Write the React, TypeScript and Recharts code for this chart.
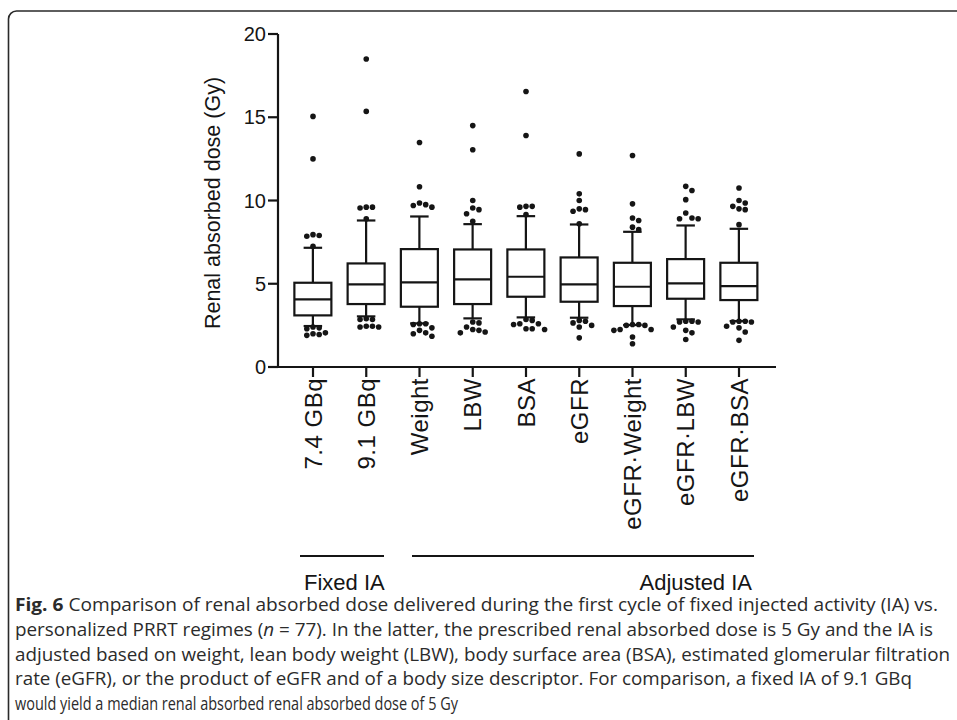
import React from 'react';
import { ComposedChart, Bar, Scatter, XAxis, YAxis } from 'recharts';

// ---------------- data ----------------
const categories = ['7.4 GBq', '9.1 GBq', 'Weight', 'LBW', 'BSA', 'eGFR', 'eGFR·Weight', 'eGFR·LBW', 'eGFR·BSA'];
const q1Values = [3.1, 3.78, 3.62, 3.78, 4.22, 3.92, 3.66, 4.1, 4.02];
const medianValues = [4.06, 4.96, 5.08, 5.26, 5.42, 4.96, 4.82, 5.02, 4.86];
const q3Values = [5.06, 6.22, 7.08, 7.06, 7.06, 6.58, 6.26, 6.48, 6.26];
const whiskerLowValues = [2.46, 3.04, 2.62, 2.92, 2.98, 2.96, 2.52, 2.86, 2.76];
const whiskerHighValues = [7.16, 8.8, 9.04, 8.58, 9.06, 8.56, 8.12, 8.5, 8.3];
const outliersAbove = [
  [15.05, 12.5, 7.95, 7.9, 7.85, 7.25],
  [18.5, 15.35, 9.6, 9.55, 9.6, 8.9],
  [13.48, 10.83, 9.85, 9.75, 9.7, 9.6],
  [14.5, 13.05, 10.0, 9.55, 9.45, 9.2, 8.75],
  [16.55, 13.9, 9.65, 9.65, 9.6, 9.15],
  [12.8, 10.4, 10.0, 9.5, 9.45, 9.35, 8.6],
  [12.7, 9.8, 8.95, 8.8, 8.4, 8.25],
  [10.85, 10.6, 10.05, 9.25, 8.9, 8.9, 8.95],
  [10.75, 10.0, 9.85, 9.65, 9.5, 9.45, 8.55],
];
const outliersBelow = [
  [2.4, 2.35, 2.3, 2.05, 2.0, 1.95, 1.9],
  [2.9, 2.85, 2.85, 2.45, 2.4, 2.4, 2.45],
  [2.6, 2.55, 2.6, 2.35, 2.2, 2.05, 2.0, 1.85],
  [2.7, 2.65, 2.4, 2.25, 2.2, 2.05, 2.1],
  [2.85, 2.8, 2.6, 2.6, 2.55, 2.3, 2.25, 2.3],
  [2.8, 2.75, 2.65, 2.5, 2.4, 1.75],
  [2.55, 2.5, 2.5, 2.55, 2.25, 2.2, 2.25, 1.8, 1.4],
  [2.75, 2.7, 2.7, 2.75, 2.4, 2.2, 2.05, 1.65],
  [2.75, 2.7, 2.7, 2.75, 2.45, 2.35, 2.1, 1.6],
];
const yTicks = [0, 5, 10, 15, 20];
const yLabel = 'Renal absorbed dose (Gy)';
const groupLabels = ['Fixed IA', 'Adjusted IA'];
const captionRest = [
  'personalized PRRT regimes (',
  'adjusted based on weight, lean body weight (LBW), body surface area (BSA), estimated glomerular filtration',
  'rate (eGFR), or the product of eGFR and of a body size descriptor. For comparison, a fixed IA of 9.1 GBq',
  'would yield a median renal absorbed renal absorbed dose of 5 Gy',
];

// ---------------- layout ----------------
const W = 957;
const H = 720;
const PLOT_LEFT = 278;
const PLOT_RIGHT = 776;
const PLOT_TOP = 34;
const PLOT_BOTTOM = 367;
const PAD_L = 8.375;
const PAD_R = 10.375;
const BAND = (PLOT_RIGHT - PLOT_LEFT - PAD_L - PAD_R) / categories.length;
const NUM_D0 = -(PAD_L + BAND / 2) / BAND;
const NUM_D1 = categories.length - 1 + (PAD_R + BAND / 2) / BAND;
const PX_PER_GY = (PLOT_BOTTOM - PLOT_TOP) / 20;
const DOT_R = 2.8;
const INK = '#151515';
const FONT = '"Liberation Sans", Arial, Helvetica, sans-serif';

const rows = categories.map((name, i) => ({
  name,
  box: [q1Values[i], q3Values[i]],
  whisker: [whiskerLowValues[i], whiskerHighValues[i]],
  q1: q1Values[i],
  q3: q3Values[i],
  med: medianValues[i],
}));

// simple beeswarm dodge so that overlapping outliers are spread sideways
function swarm(values: number[], idx: number) {
  const placed: { v: number; dx: number }[] = [];
  const sorted = [...values].sort((a, b) => b - a);
  const step = 2 * DOT_R + 0.6;
  for (const v of sorted) {
    for (let k = 0; k < 30; k++) {
      const m = k === 0 ? 0 : k % 2 === 1 ? Math.ceil(k / 2) : -Math.ceil(k / 2);
      const dx = m * step;
      const ok = placed.every((p) => Math.hypot(dx - p.dx, (v - p.v) * PX_PER_GY) >= 2 * DOT_R + 0.4);
      if (ok) {
        placed.push({ v, dx });
        break;
      }
    }
  }
  return placed.map((p) => ({ x: idx + p.dx / BAND, y: p.v }));
}

const outlierPoints = categories.flatMap((_, i) => [
  ...swarm(outliersAbove[i], i),
  ...swarm(outliersBelow[i], i),
]);

const WhiskerShape = (props: any) => {
  const { x, y, width, height, payload } = props;
  const top = Math.min(y, y + height);
  const h = Math.abs(height);
  const lo = payload.whisker[0];
  const hi = payload.whisker[1];
  const pix = (v: number) => top + (h * (hi - v)) / (hi - lo);
  const cx = x + width / 2;
  const cap = width / 4;
  const yq3 = pix(payload.q3);
  const yq1 = pix(payload.q1);
  const bottom = top + h;
  return (
    <g stroke={INK} strokeWidth={2.2} fill="none">
      <line x1={cx} x2={cx} y1={top} y2={yq3} />
      <line x1={cx} x2={cx} y1={yq1} y2={bottom} />
      <line x1={cx - cap} x2={cx + cap} y1={top} y2={top} />
      <line x1={cx - cap} x2={cx + cap} y1={bottom} y2={bottom} />
    </g>
  );
};

const BoxShape = (props: any) => {
  const { x, y, width, height, payload } = props;
  const top = Math.min(y, y + height);
  const h = Math.abs(height);
  const yMed = top + (h * (payload.q3 - payload.med)) / (payload.q3 - payload.q1);
  return (
    <g stroke={INK} strokeWidth={2.2}>
      <rect x={x} y={top} width={width} height={h} fill="#ffffff" />
      <line x1={x} x2={x + width} y1={yMed} y2={yMed} />
    </g>
  );
};

const DotShape = (props: any) => <circle cx={props.cx} cy={props.cy} r={DOT_R} fill={INK} />;

const CatTick = (props: any) => {
  const { x, y, payload } = props;
  return (
    <text
      x={x}
      y={y}
      transform={`rotate(-90 ${x} ${y})`}
      textAnchor="end"
      dominantBaseline="central"
      fontSize={24}
      letterSpacing={0.5}
      fontFamily={FONT}
      fill={INK}
    >
      {payload.value}
    </text>
  );
};

export default function App() {
  const capFont = '"Open Sans", "Noto Sans", sans-serif';
  return (
    <div style={{ position: 'absolute', left: 0, top: 0, width: W, height: H, background: '#fff' }}>
      <div style={{ position: 'absolute', left: 0, top: 0 }}>
        <ComposedChart
          width={W}
          height={H}
          data={rows}
          margin={{ top: PLOT_TOP, right: W - PLOT_RIGHT, bottom: H - PLOT_BOTTOM - 170, left: 0 }}
        >
          <XAxis
            xAxisId="cat"
            dataKey="name"
            type="category"
            height={170}
            interval={0}
            padding={{ left: PAD_L, right: PAD_R }}
            tick={<CatTick />}
            tickSize={10}
            tickMargin={1}
            axisLine={{ stroke: INK, strokeWidth: 2.2 }}
            tickLine={{ stroke: INK, strokeWidth: 2.2 }}
          />
          <XAxis xAxisId="w" dataKey="name" type="category" hide padding={{ left: PAD_L, right: PAD_R }} />
          <XAxis xAxisId="num" dataKey="x" type="number" hide domain={[NUM_D0, NUM_D1]} allowDataOverflow />
          <YAxis
            type="number"
            domain={[0, 20]}
            ticks={yTicks}
            interval={0}
            allowDataOverflow
            width={PLOT_LEFT}
            tickSize={10}
            tickMargin={2}
            axisLine={{ stroke: INK, strokeWidth: 2.2 }}
            tickLine={{ stroke: INK, strokeWidth: 2.2 }}
            tick={{ fontSize: 20, fill: INK, fontFamily: FONT }}
          />
          <Bar xAxisId="w" dataKey="whisker" barSize={37} shape={WhiskerShape} isAnimationActive={false} />
          <Bar xAxisId="cat" dataKey="box" barSize={37} shape={BoxShape} isAnimationActive={false} />
          <Scatter xAxisId="num" data={outlierPoints} dataKey="y" shape={DotShape} isAnimationActive={false} />
        </ComposedChart>
      </div>
      <svg
        width={W}
        height={H}
        style={{ position: 'absolute', left: 0, top: 0, pointerEvents: 'none' }}
      >
        <path d="M 8.5 720 L 8.5 19 A 8 8 0 0 1 16.5 11 L 957 11" fill="none" stroke="#2a2a2a" strokeWidth={1.6} />
        <text
          x={213}
          y={203}
          transform="rotate(-90 213 203)"
          textAnchor="middle"
          dominantBaseline="central"
          fontSize={21.5}
          fontFamily={FONT}
          fill={INK}
        >
          {yLabel}
        </text>
        <line x1={300} x2={384} y1={556} y2={556} stroke={INK} strokeWidth={2.2} />
        <line x1={412} x2={754} y1={556} y2={556} stroke={INK} strokeWidth={2.2} />
        <text x={304} y={590} fontSize={22} fontFamily={FONT} fill={INK}>
          {groupLabels[0]}
        </text>
        <text x={752} y={590} textAnchor="end" fontSize={22} fontFamily={FONT} fill={INK}>
          {groupLabels[1]}
        </text>
        <g fontFamily={capFont} fontSize={18} fill="#2b2b2b">
          <text x={15} y={611} textLength={923} lengthAdjust="spacingAndGlyphs">
            <tspan fontWeight={700}>Fig. 6</tspan>
            {' Comparison of renal absorbed dose delivered during the first cycle of fixed injected activity (IA) vs.'}
          </text>
          <text x={15} y={635.75} textLength={918} lengthAdjust="spacingAndGlyphs">
            {captionRest[0]}
            <tspan fontStyle="italic">n</tspan>
            {' = 77). In the latter, the prescribed renal absorbed dose is 5 Gy and the IA is'}
          </text>
          <text x={15} y={660.5} textLength={935} lengthAdjust="spacingAndGlyphs">
            {captionRest[1]}
          </text>
          <text x={15} y={685.25} textLength={897} lengthAdjust="spacingAndGlyphs">
            {captionRest[2]}
          </text>
          <text x={15} y={710} textLength={443} lengthAdjust="spacingAndGlyphs">
            {captionRest[3]}
          </text>
        </g>
      </svg>
    </div>
  );
}
